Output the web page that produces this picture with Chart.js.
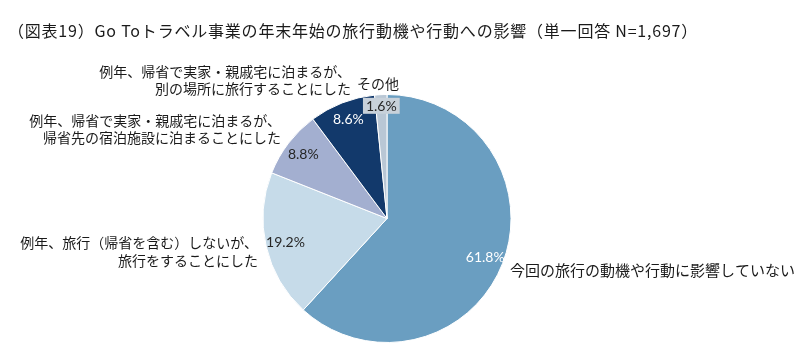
<!DOCTYPE html>
<html>
<head>
<meta charset="utf-8">
<script src="https://cdn.jsdelivr.net/npm/chart.js@4.4.1/dist/chart.umd.min.js"></script>
<style>
  html, body { margin: 0; padding: 0; background: #ffffff; }
  #wrap { width: 800px; height: 355px; position: relative; }
</style>
</head>
<body>
<div id="wrap"><canvas id="c" width="800" height="355"></canvas></div>
<script>
// ---- data ----
const titleText = '（図表19）Go Toトラベル事業の年末年始の旅行動機や行動への影響（単一回答 N=1,697）';
const categories = [
  ['今回の旅行の動機や行動に影響していない'],
  ['例年、旅行（帰省を含む）しないが、', '旅行をすることにした'],
  ['例年、帰省で実家・親戚宅に泊まるが、', '帰省先の宿泊施設に泊まることにした'],
  ['例年、帰省で実家・親戚宅に泊まるが、', '別の場所に旅行することにした'],
  ['その他']
];
const values = [61.8, 19.2, 8.8, 8.6, 1.6];

// ---- styles ----
const sliceColors = ['#6A9EC1', '#C6DBE9', '#A3AFD0', '#12396B', '#B9C7D5'];
const pctColors = ['#ffffff', '#262626', '#262626', '#ffffff', '#262626'];
const pctRadius = [0.85, 0.84, 0.85, 0.86, 0.91];
const pctBox = [null, null, null, null, '#C8D1DA'];
const catLayout = [
  { x: 510, y: 270, align: 'left', size: 15, lh: 18 },
  { x: 258, y: 243, align: 'right', size: 14, lh: 18 },
  { x: 281, y: 121, align: 'right', size: 14, lh: 17 },
  { x: 351, y: 72, align: 'right', size: 14, lh: 17 },
  { x: 357, y: 84, align: 'left', size: 14, lh: 17 }
];
const jpFont = '"Noto Sans CJK JP", "Noto Sans", sans-serif';

const textPlugin = {
  id: 'textPlugin',
  afterDatasetsDraw(chart) {
    const ctx = chart.ctx;
    ctx.save();
    // title
    ctx.fillStyle = '#1a1a1a';
    ctx.textBaseline = 'middle';
    ctx.textAlign = 'left';
    ctx.font = '16px ' + jpFont;
    const target = 690;
    const w = ctx.measureText(titleText).width;
    if ('letterSpacing' in ctx) {
      ctx.letterSpacing = ((target - w) / titleText.length).toFixed(2) + 'px';
    }
    ctx.fillText(titleText, 8, 31);
    if ('letterSpacing' in ctx) ctx.letterSpacing = '0px';

    // category labels
    categories.forEach((lines, i) => {
      const L = catLayout[i];
      ctx.font = L.size + 'px ' + jpFont;
      ctx.textAlign = L.align;
      ctx.fillStyle = '#1a1a1a';
      lines.forEach((ln, k) => ctx.fillText(ln, L.x, L.y + k * L.lh));
    });

    // percentage labels
    const arcs = chart.getDatasetMeta(0).data;
    arcs.forEach((arc, i) => {
      const p = arc.getProps(['x', 'y', 'startAngle', 'endAngle', 'outerRadius'], true);
      const mid = (p.startAngle + p.endAngle) / 2;
      const r = p.outerRadius * pctRadius[i];
      const px = p.x + Math.cos(mid) * r;
      const py = p.y + Math.sin(mid) * r;
      const txt = values[i].toFixed(1) + '%';
      ctx.font = '14px Lato, "Open Sans", sans-serif';
      ctx.textAlign = 'center';
      ctx.textBaseline = 'middle';
      if (pctBox[i]) {
        const tw = ctx.measureText(txt).width;
        ctx.fillStyle = pctBox[i];
        ctx.fillRect(px - tw / 2 - 3, py - 8, tw + 6, 16);
      }
      ctx.fillStyle = pctColors[i];
      ctx.fillText(txt, px, py + 0.5);
    });
    ctx.restore();
  }
};

new Chart(document.getElementById('c'), {
  type: 'pie',
  data: {
    labels: categories,
    datasets: [{
      data: values,
      backgroundColor: sliceColors,
      borderColor: '#ffffff',
      borderWidth: 1,
      hoverOffset: 0,
      radius: 124
    }]
  },
  options: {
    responsive: false,
    animation: false,
    layout: { padding: { left: 257, right: 283, top: 88.5, bottom: 6.5 } },
    plugins: {
      legend: { display: false },
      tooltip: { enabled: false },
      title: { display: false }
    }
  },
  plugins: [textPlugin]
});
</script>
</body>
</html>
